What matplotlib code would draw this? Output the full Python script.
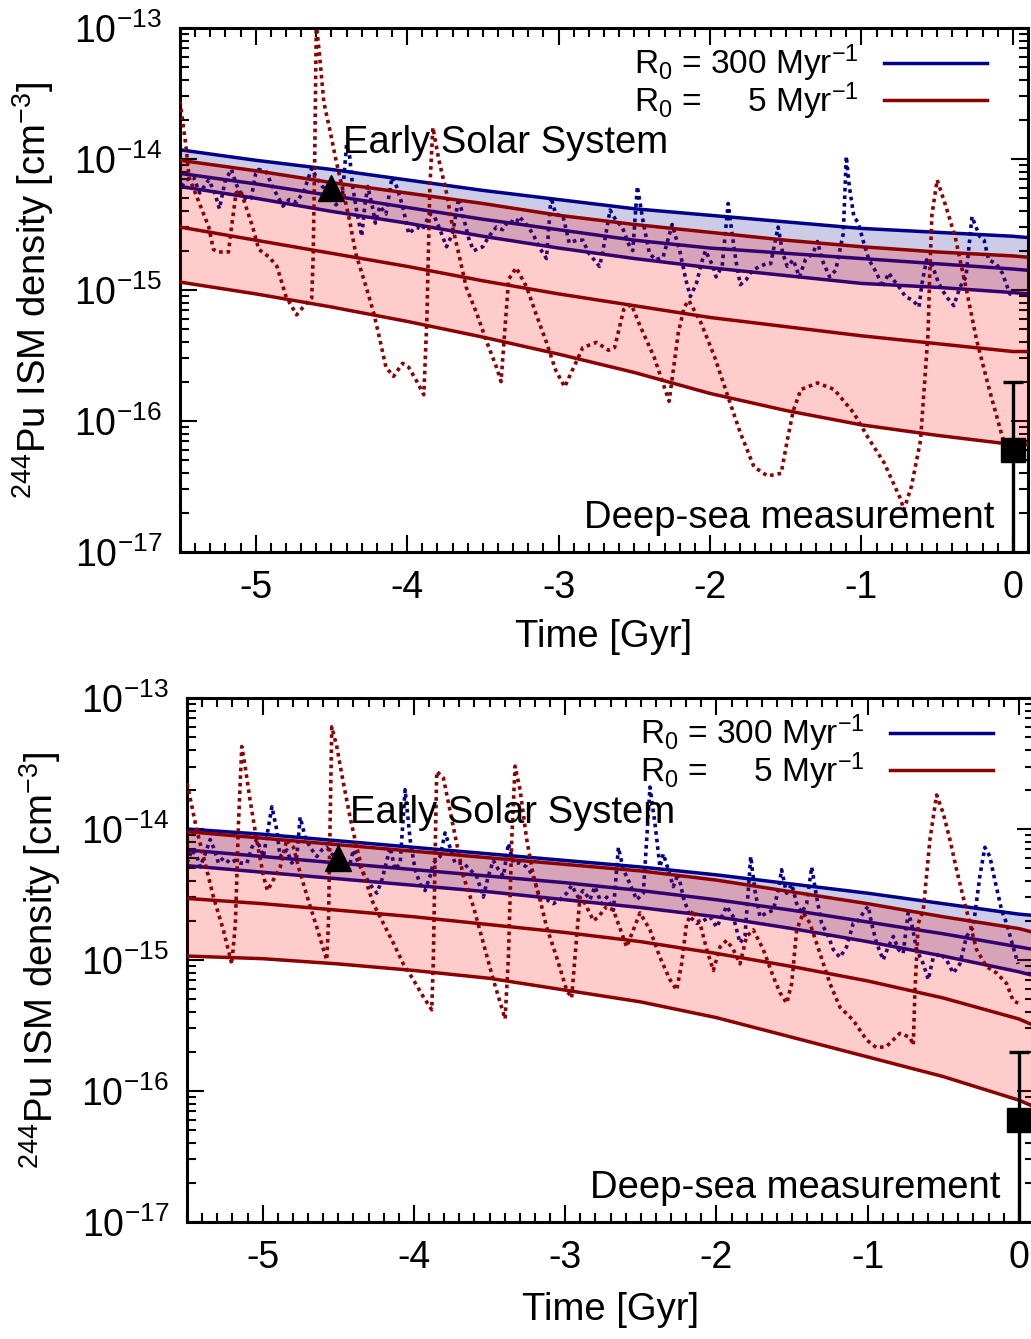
import numpy as np
import matplotlib.pyplot as plt
from matplotlib.ticker import FixedLocator, MultipleLocator, NullFormatter, FuncFormatter

plt.rcParams['font.family'] = ['Liberation Sans', 'DejaVu Sans']
plt.rcParams['mathtext.fontset'] = 'custom'
plt.rcParams['mathtext.rm'] = 'Liberation Sans'
plt.rcParams['mathtext.it'] = 'Liberation Sans'
plt.rcParams['mathtext.bf'] = 'Liberation Sans:bold'
plt.rcParams['axes.unicode_minus'] = False

BLUE = '#00008b'
RED = '#8b0000'
FS = 27.5

# time grid [Gyr] for the envelope curves
t_band = np.array([-5.5, -5.0, -4.5, -4.0, -3.5, -3.0, -2.5, -2.0, -1.5, -1.0, -0.5, 0.0, 0.1])

# upper panel, log10 of density [cm^-3]
a_blue_hi = [-13.93, -14.01, -14.08, -14.16, -14.24, -14.31, -14.38, -14.43, -14.48, -14.53, -14.56, -14.59, -14.60]
a_blue_mid = [-14.11, -14.19, -14.28, -14.37, -14.46, -14.54, -14.62, -14.68, -14.72, -14.76, -14.80, -14.84, -14.85]
a_blue_lo = [-14.21, -14.30, -14.40, -14.49, -14.59, -14.68, -14.76, -14.83, -14.89, -14.95, -14.98, -15.02, -15.03]
a_red_hi = [-14.01, -14.09, -14.18, -14.26, -14.34, -14.43, -14.50, -14.56, -14.62, -14.67, -14.71, -14.74, -14.75]
a_red_mid = [-14.52, -14.62, -14.72, -14.82, -14.93, -15.03, -15.12, -15.21, -15.28, -15.35, -15.41, -15.47, -15.47]
a_red_lo = [-14.94, -15.03, -15.13, -15.24, -15.36, -15.49, -15.63, -15.79, -15.92, -16.03, -16.11, -16.18, -16.18]

# lower panel
b_blue_hi = [-14.00, -14.04, -14.09, -14.14, -14.19, -14.24, -14.29, -14.35, -14.42, -14.49, -14.57, -14.65, -14.66]
b_blue_mid = [-14.16, -14.21, -14.26, -14.31, -14.36, -14.41, -14.47, -14.54, -14.62, -14.71, -14.80, -14.90, -14.92]
b_blue_lo = [-14.28, -14.33, -14.38, -14.43, -14.48, -14.54, -14.60, -14.67, -14.76, -14.86, -14.97, -15.09, -15.12]
b_red_hi = [-14.02, -14.07, -14.12, -14.17, -14.22, -14.27, -14.32, -14.39, -14.48, -14.57, -14.67, -14.76, -14.79]
b_red_mid = [-14.53, -14.57, -14.62, -14.67, -14.73, -14.79, -14.86, -14.95, -15.05, -15.16, -15.29, -15.45, -15.50]
b_red_lo = [-14.97, -14.99, -15.03, -15.08, -15.14, -15.23, -15.32, -15.44, -15.59, -15.74, -15.89, -16.07, -16.12]

# single realisations: (time [Gyr], log10 density)
a_red_run = np.array([
    (-5.50, -13.56), (-5.46, -13.91), (-5.44, -14.14), (-5.31, -14.52), (-5.28, -14.69), (-5.25, -14.71),
    (-5.18, -14.71), (-5.16, -14.52), (-5.13, -14.26), (-5.10, -14.24), (-5.02, -14.52), (-4.98, -14.69),
    (-4.91, -14.75), (-4.86, -14.82), (-4.80, -15.05), (-4.73, -15.19), (-4.65, -15.08), (-4.63, -15.06),
    (-4.62, -14.72), (-4.61, -13.95), (-4.60, -12.97), (-4.58, -13.19), (-4.55, -13.57), (-4.51, -13.78),
    (-4.47, -14.01), (-4.42, -14.26), (-4.38, -14.47), (-4.34, -14.72), (-4.27, -14.98), (-4.22, -15.18),
    (-4.18, -15.38), (-4.14, -15.59), (-4.09, -15.66), (-4.03, -15.56), (-3.99, -15.59), (-3.94, -15.69),
    (-3.89, -15.80), (-3.87, -15.23), (-3.85, -14.21), (-3.83, -13.76), (-3.79, -14.01), (-3.74, -14.26),
    (-3.70, -14.52), (-3.66, -14.72), (-3.61, -14.98), (-3.54, -15.18), (-3.48, -15.38), (-3.41, -15.59),
    (-3.38, -15.70), (-3.35, -15.23), (-3.33, -14.92), (-3.28, -14.83), (-3.21, -14.98), (-3.15, -15.18),
    (-3.08, -15.40), (-3.02, -15.61), (-2.96, -15.74), (-2.90, -15.59), (-2.84, -15.44), (-2.75, -15.40),
    (-2.67, -15.46), (-2.63, -15.44), (-2.57, -15.15), (-2.52, -15.11), (-2.46, -15.28), (-2.37, -15.51),
    (-2.27, -15.85), (-2.21, -15.33), (-2.17, -15.13), (-2.14, -15.08), (-2.06, -15.25), (-1.97, -15.51),
    (-1.88, -15.82), (-1.80, -16.09), (-1.71, -16.35), (-1.62, -16.42), (-1.53, -16.40), (-1.49, -16.15),
    (-1.45, -15.92), (-1.40, -15.76), (-1.29, -15.71), (-1.18, -15.76), (-1.05, -15.94), (-0.96, -16.12),
    (-0.85, -16.32), (-0.74, -16.60), (-0.72, -16.68), (-0.67, -16.50), (-0.61, -16.15), (-0.56, -15.33),
    (-0.55, -14.92), (-0.535, -14.43), (-0.50, -14.16), (-0.44, -14.37), (-0.38, -14.60), (-0.31, -14.98),
    (-0.24, -15.38), (-0.16, -15.74), (-0.07, -16.12), (-0.01, -16.30),
])

a_blue_run = np.array([
    (-5.49, -14.21), (-5.46, -14.16), (-5.41, -14.14), (-5.37, -14.26), (-5.31, -14.16), (-5.27, -14.26),
    (-5.24, -14.38), (-5.20, -14.16), (-5.16, -14.08), (-5.13, -14.19), (-5.10, -14.26), (-5.06, -14.31),
    (-5.03, -14.30), (-5.00, -14.11), (-4.98, -14.08), (-4.93, -14.10), (-4.89, -14.21), (-4.82, -14.36),
    (-4.78, -14.31), (-4.73, -14.33), (-4.68, -14.24), (-4.63, -14.07), (-4.60, -14.14), (-4.56, -14.21),
    (-4.51, -14.26), (-4.47, -14.35), (-4.43, -14.31), (-4.40, -13.89), (-4.38, -13.98), (-4.36, -14.21),
    (-4.33, -14.42), (-4.30, -14.59), (-4.28, -14.36), (-4.26, -14.21), (-4.23, -14.36), (-4.21, -14.49),
    (-4.18, -14.36), (-4.14, -14.42), (-4.10, -14.14), (-4.07, -14.21), (-4.03, -14.36), (-3.99, -14.57),
    (-3.94, -14.52), (-3.90, -14.54), (-3.85, -14.42), (-3.82, -14.44), (-3.79, -14.52), (-3.74, -14.67),
    (-3.70, -14.57), (-3.66, -14.30), (-3.63, -14.44), (-3.59, -14.62), (-3.56, -14.70), (-3.50, -14.67),
    (-3.46, -14.59), (-3.41, -14.52), (-3.37, -14.54), (-3.33, -14.47), (-3.28, -14.49), (-3.26, -14.44),
    (-3.22, -14.49), (-3.17, -14.57), (-3.13, -14.67), (-3.08, -14.76), (-3.05, -14.29), (-3.02, -14.42),
    (-2.97, -14.44), (-2.93, -14.64), (-2.88, -14.62), (-2.84, -14.62), (-2.80, -14.72), (-2.73, -14.82),
    (-2.71, -14.72), (-2.66, -14.39), (-2.62, -14.47), (-2.58, -14.52), (-2.53, -14.67), (-2.51, -14.70),
    (-2.48, -14.21), (-2.44, -14.49), (-2.40, -14.72), (-2.36, -14.77), (-2.31, -14.75), (-2.25, -14.50),
    (-2.20, -14.70), (-2.16, -14.92), (-2.13, -15.05), (-2.09, -14.95), (-2.05, -14.77), (-2.03, -14.70),
    (-1.98, -14.82), (-1.96, -14.90), (-1.92, -14.82), (-1.88, -14.34), (-1.86, -14.52), (-1.83, -14.77),
    (-1.80, -14.96), (-1.76, -14.92), (-1.72, -14.85), (-1.67, -14.82), (-1.63, -14.80), (-1.60, -14.80),
    (-1.55, -14.52), (-1.52, -14.72), (-1.49, -14.82), (-1.45, -14.77), (-1.41, -14.90), (-1.37, -14.77),
    (-1.32, -14.72), (-1.29, -14.63), (-1.26, -14.77), (-1.21, -14.90), (-1.17, -14.85), (-1.12, -14.57),
    (-1.10, -13.98), (-1.08, -14.21), (-1.05, -14.44), (-1.02, -14.49), (-0.99, -14.62), (-0.95, -14.77),
    (-0.90, -14.87), (-0.86, -14.98), (-0.82, -14.87), (-0.79, -14.92), (-0.75, -14.98), (-0.71, -15.05),
    (-0.66, -15.08), (-0.62, -15.13), (-0.60, -14.95), (-0.57, -14.77), (-0.53, -14.82), (-0.49, -14.95),
    (-0.44, -15.05), (-0.39, -15.12), (-0.35, -14.98), (-0.31, -14.90), (-0.27, -14.44), (-0.22, -14.59),
    (-0.19, -14.62), (-0.16, -14.77), (-0.11, -14.80), (-0.07, -14.87), (-0.02, -15.03), (0.00, -15.04),
])

b_red_run = np.array([
    (-5.50, -13.65), (-5.435, -14.01), (-5.37, -14.31), (-5.325, -14.52), (-5.26, -14.77), (-5.215, -14.98),
    (-5.204, -15.03), (-5.18, -14.72), (-5.16, -13.96), (-5.138, -13.37), (-5.116, -13.52), (-5.083, -13.78),
    (-5.04, -14.08), (-4.995, -14.36), (-4.968, -14.47), (-4.93, -14.39), (-4.884, -14.29), (-4.84, -14.08),
    (-4.796, -14.14), (-4.763, -14.29), (-4.73, -14.42), (-4.686, -14.59), (-4.642, -14.75), (-4.598, -14.92),
    (-4.576, -15.00), (-4.565, -14.72), (-4.554, -13.96), (-4.543, -13.22), (-4.51, -13.37), (-4.466, -13.65),
    (-4.422, -13.91), (-4.378, -14.14), (-4.334, -14.34), (-4.268, -14.57), (-4.202, -14.72), (-4.136, -14.87),
    (-4.07, -15.03), (-4.004, -15.15), (-3.938, -15.28), (-3.882, -15.38), (-3.871, -14.98), (-3.86, -14.21),
    (-3.849, -13.56), (-3.805, -13.61), (-3.761, -13.86), (-3.717, -14.11), (-3.673, -14.36), (-3.607, -14.59),
    (-3.541, -14.87), (-3.475, -15.15), (-3.397, -15.45), (-3.375, -14.98), (-3.353, -14.08), (-3.331, -13.52),
    (-3.298, -13.70), (-3.254, -14.08), (-3.21, -14.36), (-3.166, -14.54), (-3.122, -14.75), (-3.056, -14.98),
    (-2.99, -15.23), (-2.957, -15.29), (-2.935, -14.98), (-2.902, -14.52), (-2.868, -14.57), (-2.813, -14.70),
    (-2.78, -14.67), (-2.725, -14.59), (-2.681, -14.62), (-2.593, -14.90), (-2.549, -14.77), (-2.505, -14.64),
    (-2.439, -14.77), (-2.373, -14.98), (-2.307, -15.15), (-2.263, -15.23), (-2.23, -15.03), (-2.197, -14.72),
    (-2.153, -14.62), (-2.108, -14.72), (-2.064, -14.92), (-2.02, -15.08), (-1.976, -14.90), (-1.932, -14.85),
    (-1.888, -14.92), (-1.844, -15.03), (-1.80, -14.82), (-1.756, -14.77), (-1.69, -14.92), (-1.623, -15.13),
    (-1.579, -15.25), (-1.535, -15.33), (-1.502, -15.18), (-1.469, -14.77), (-1.425, -14.64), (-1.381, -14.72),
    (-1.315, -14.95), (-1.249, -15.18), (-1.183, -15.36), (-1.095, -15.46), (-1.007, -15.61), (-0.941, -15.67),
    (-0.875, -15.66), (-0.787, -15.56), (-0.72, -15.59), (-0.698, -15.65), (-0.687, -15.23), (-0.665, -14.72),
    (-0.632, -14.62), (-0.588, -14.08), (-0.544, -13.74), (-0.50, -13.88), (-0.456, -14.08), (-0.412, -14.31),
    (-0.368, -14.52), (-0.324, -14.72), (-0.28, -14.92), (-0.214, -15.05), (-0.147, -15.10), (-0.081, -15.18),
    (-0.038, -15.31), (-0.005, -15.33),
])

b_blue_run = np.array([
    (-5.50, -14.26), (-5.468, -14.16), (-5.435, -14.21), (-5.413, -14.29), (-5.38, -14.19), (-5.347, -14.08),
    (-5.325, -14.14), (-5.292, -14.26), (-5.259, -14.22), (-5.215, -14.26), (-5.182, -14.24), (-5.149, -14.26),
    (-5.104, -14.26), (-5.071, -14.14), (-5.038, -14.08), (-4.995, -14.21), (-4.939, -13.83), (-4.906, -14.01),
    (-4.885, -14.21), (-4.84, -14.16), (-4.807, -14.26), (-4.774, -14.21), (-4.752, -13.91), (-4.719, -14.06),
    (-4.686, -14.14), (-4.642, -14.21), (-4.609, -14.16), (-4.576, -14.14), (-4.543, -14.19), (-4.51, -14.21),
    (-4.466, -14.26), (-4.433, -14.31), (-4.40, -14.16), (-4.367, -14.26), (-4.323, -14.36), (-4.279, -14.44),
    (-4.245, -14.49), (-4.212, -14.39), (-4.179, -14.24), (-4.157, -14.14), (-4.124, -14.31), (-4.091, -14.26),
    (-4.058, -13.70), (-4.025, -14.08), (-3.992, -14.31), (-3.959, -14.42), (-3.926, -14.47), (-3.893, -14.36),
    (-3.871, -14.26), (-3.827, -14.21), (-3.794, -14.03), (-3.761, -14.14), (-3.728, -14.26), (-3.673, -14.26),
    (-3.629, -14.31), (-3.585, -14.36), (-3.541, -14.52), (-3.508, -14.36), (-3.475, -14.24), (-3.441, -14.31),
    (-3.408, -14.36), (-3.375, -14.11), (-3.342, -14.26), (-3.298, -14.26), (-3.254, -14.29), (-3.21, -14.36),
    (-3.166, -14.54), (-3.122, -14.54), (-3.078, -14.57), (-3.034, -14.54), (-2.99, -14.49), (-2.957, -14.43),
    (-2.914, -14.52), (-2.881, -14.47), (-2.836, -14.54), (-2.803, -14.44), (-2.759, -14.57), (-2.725, -14.52),
    (-2.681, -14.62), (-2.648, -14.14), (-2.615, -14.31), (-2.571, -14.42), (-2.527, -14.54), (-2.483, -14.49),
    (-2.439, -13.68), (-2.406, -13.96), (-2.373, -14.29), (-2.351, -14.19), (-2.318, -14.31), (-2.285, -14.44),
    (-2.252, -14.34), (-2.219, -14.52), (-2.175, -14.67), (-2.13, -14.72), (-2.086, -14.70), (-2.042, -14.67),
    (-1.998, -14.75), (-1.965, -14.67), (-1.932, -14.59), (-1.888, -14.67), (-1.844, -14.87), (-1.811, -14.82),
    (-1.789, -14.47), (-1.773, -14.21), (-1.745, -14.47), (-1.712, -14.67), (-1.668, -14.64), (-1.624, -14.62),
    (-1.591, -14.47), (-1.569, -14.31), (-1.536, -14.49), (-1.502, -14.42), (-1.469, -14.57), (-1.436, -14.64),
    (-1.403, -14.57), (-1.37, -14.29), (-1.337, -14.52), (-1.304, -14.72), (-1.26, -14.82), (-1.227, -14.92),
    (-1.183, -14.98), (-1.139, -14.90), (-1.095, -14.72), (-1.062, -14.70), (-1.018, -14.62), (-0.996, -14.59),
    (-0.974, -14.72), (-0.941, -14.87), (-0.897, -15.00), (-0.864, -14.90), (-0.83, -14.82), (-0.797, -14.92),
    (-0.765, -14.95), (-0.732, -14.64), (-0.709, -14.72), (-0.676, -14.92), (-0.632, -15.03), (-0.599, -15.15),
    (-0.566, -14.98), (-0.522, -14.95), (-0.478, -15.00), (-0.434, -15.10), (-0.39, -15.03), (-0.346, -14.82),
    (-0.302, -14.75), (-0.258, -14.36), (-0.225, -14.14), (-0.192, -14.21), (-0.159, -14.39), (-0.114, -14.62),
    (-0.081, -14.72), (-0.038, -14.90), (-0.005, -15.03),
])

# reference points
ess_t, ess_n = -4.5, 6.0e-15
sea_t, sea_n, sea_hi, sea_lo = 0.0, 6.0e-17, 2.0e-16, 1.0e-18

labels = [r'R$_0$ = 300 Myr$^{-1}$', r'R$_0$ =     5 Myr$^{-1}$']

decades = 10.0 ** np.arange(-17, -12)
minor_y = [m * d for d in decades[:-1] for m in range(2, 10)]


def draw_panel(ax, bands, blue_run, red_run):
    b_hi, b_mid, b_lo, r_hi, r_mid, r_lo = [10.0 ** np.array(v) for v in bands]
    dots = dict(lw=2.6, ls=(0, (1.0, 1.1)), dash_capstyle='butt')

    ax.fill_between(t_band, b_lo, b_hi, color=BLUE, alpha=0.2, lw=0, zorder=1)
    lb, = ax.plot(t_band, b_hi, color=BLUE, lw=2.5, zorder=2)
    ax.plot(t_band, b_mid, color=BLUE, lw=2.5, zorder=2)
    ax.plot(t_band, b_lo, color=BLUE, lw=2.5, zorder=2)
    ax.plot(blue_run[:, 0], 10.0 ** blue_run[:, 1], color=BLUE, zorder=2, **dots)

    ax.fill_between(t_band, r_lo, r_hi, color='red', alpha=0.2, lw=0, zorder=3)
    lr, = ax.plot(t_band, r_hi, color=RED, lw=2.5, zorder=4)
    ax.plot(t_band, r_mid, color=RED, lw=2.5, zorder=4)
    ax.plot(t_band, r_lo, color=RED, lw=2.5, zorder=4)
    ax.plot(red_run[:, 0], 10.0 ** red_run[:, 1], color=RED, zorder=4, **dots)

    ax.plot([ess_t], [ess_n], marker='^', ms=19, color='black', zorder=6)
    ax.errorbar([sea_t], [sea_n], yerr=[[sea_n - sea_lo], [sea_hi - sea_n]], fmt='s', ms=17,
                color='black', lw=2.4, capsize=7, capthick=2.4, zorder=6)

    ax.set_yscale('log')
    ax.set_xlim(-5.5, 0.1)
    ax.set_ylim(1e-17, 1e-13)
    ax.xaxis.set_major_locator(MultipleLocator(1))
    ax.xaxis.set_minor_locator(MultipleLocator(0.1))
    ax.xaxis.set_major_formatter(FuncFormatter(lambda v, p: '%d' % round(v)))
    ax.yaxis.set_major_locator(FixedLocator(decades))
    ax.yaxis.set_minor_locator(FixedLocator(minor_y))
    ax.yaxis.set_minor_formatter(NullFormatter())
    ax.yaxis.set_major_formatter(FuncFormatter(lambda v, p: r'10$^{%d}$' % round(np.log10(v))))
    ax.tick_params(which='both', direction='in', top=True, right=True, labelsize=27, width=1.5)
    ax.tick_params(which='major', length=12, pad=13)
    ax.tick_params(which='minor', length=6.5)
    for s in ax.spines.values():
        s.set_linewidth(2.2)

    ax.set_xlabel('Time [Gyr]', fontsize=FS)
    ax.set_ylabel(r'$^{244}$Pu ISM density [cm$^{-3}$]', fontsize=FS)
    ax.xaxis.label.set_va('center')
    ax.yaxis.label.set_va('center')

    ax.text(0.192, 0.781, 'Early Solar System', transform=ax.transAxes, fontsize=FS,
            ha='left', va='center', zorder=7)
    ax.text(0.96, 0.064, 'Deep-sea measurement', transform=ax.transAxes, fontsize=FS,
            ha='right', va='center', zorder=7)
    ax.legend([lb, lr], labels, loc='upper right', bbox_to_anchor=(0.952, 0.972), frameon=False,
              markerfirst=False, fontsize=24, handlelength=3.1, handletextpad=0.75,
              labelspacing=-0.11, borderaxespad=0, borderpad=0)


fig = plt.figure(figsize=(10.31, 13.39), dpi=100)
ax1 = fig.add_axes([0.1746, 0.5878, 0.8225, 0.3913])
ax2 = fig.add_axes([0.1814, 0.0874, 0.8215, 0.3913])

draw_panel(ax1, [a_blue_hi, a_blue_mid, a_blue_lo, a_red_hi, a_red_mid, a_red_lo], a_blue_run, a_red_run)
draw_panel(ax2, [b_blue_hi, b_blue_mid, b_blue_lo, b_red_hi, b_red_mid, b_red_lo], b_blue_run, b_red_run)

ax1.xaxis.set_label_coords(0.499, -0.162)
ax1.yaxis.set_label_coords(-0.173, 0.5)
ax2.xaxis.set_label_coords(0.5, -0.168)
ax2.yaxis.set_label_coords(-0.174, 0.5)

fig.savefig('out.png', dpi=100)
